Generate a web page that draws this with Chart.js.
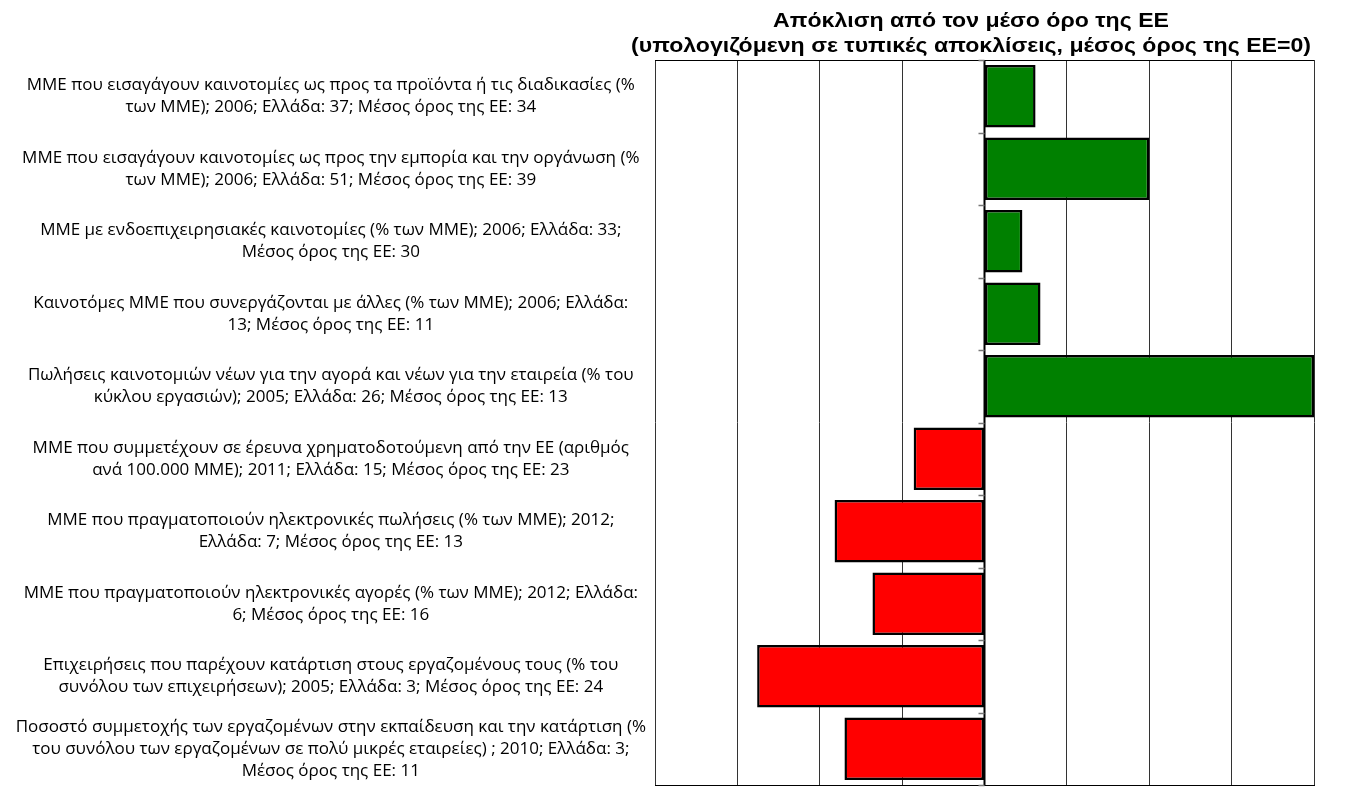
<!DOCTYPE html>
<html>
<head>
<meta charset="utf-8">
<script src="https://cdn.jsdelivr.net/npm/chart.js@4"></script>
<style>
  html, body { margin: 0; padding: 0; background: #fff; }
  #wrap { position: relative; width: 1347px; height: 787px; }
  canvas { position: absolute; left: 0; top: 0; }
  #title {
    position: absolute; left: 621px; width: 700px; top: 7px;
    text-align: center; color: #000;
    font: bold 21px 'Liberation Sans', Arial, sans-serif; line-height: 25px;
    transform: scaleX(1.1); transform-origin: 350px 0;
  }
</style>
</head>
<body>
<div id="wrap">
  <canvas id="chart" width="1347" height="787"></canvas>
  <div id="title">Απόκλιση από τον μέσο όρο της ΕΕ<br>(υπολογιζόμενη σε τυπικές αποκλίσεις, μέσος όρος της ΕΕ=0)</div>
</div>
<script>
// indicators, wrapped as in the original
const labels = [
  ['ΜΜΕ που εισαγάγουν καινοτομίες ως προς τα προϊόντα ή τις διαδικασίες (%', 'των ΜΜΕ); 2006; Ελλάδα: 37; Μέσος όρος της ΕΕ: 34'],
  ['ΜΜΕ που εισαγάγουν καινοτομίες ως προς την εμπορία και την οργάνωση (%', 'των ΜΜΕ); 2006; Ελλάδα: 51; Μέσος όρος της ΕΕ: 39'],
  ['ΜΜΕ με ενδοεπιχειρησιακές καινοτομίες (% των ΜΜΕ); 2006; Ελλάδα: 33;', 'Μέσος όρος της ΕΕ: 30'],
  ['Καινοτόμες ΜΜΕ που συνεργάζονται με άλλες (% των ΜΜΕ); 2006; Ελλάδα:', '13; Μέσος όρος της ΕΕ: 11'],
  ['Πωλήσεις καινοτομιών νέων για την αγορά και νέων για την εταιρεία (% του', 'κύκλου εργασιών); 2005; Ελλάδα: 26; Μέσος όρος της ΕΕ: 13'],
  ['ΜΜΕ που συμμετέχουν σε έρευνα χρηματοδοτούμενη από την ΕΕ (αριθμός', 'ανά 100.000 ΜΜΕ); 2011; Ελλάδα: 15; Μέσος όρος της ΕΕ: 23'],
  ['ΜΜΕ που πραγματοποιούν ηλεκτρονικές πωλήσεις (% των ΜΜΕ); 2012;', 'Ελλάδα: 7; Μέσος όρος της ΕΕ: 13'],
  ['ΜΜΕ που πραγματοποιούν ηλεκτρονικές αγορές (% των ΜΜΕ); 2012; Ελλάδα:', '6; Μέσος όρος της ΕΕ: 16'],
  ['Επιχειρήσεις που παρέχουν κατάρτιση στους εργαζομένους τους (% του', 'συνόλου των επιχειρήσεων); 2005; Ελλάδα: 3; Μέσος όρος της ΕΕ: 24'],
  ['Ποσοστό συμμετοχής των εργαζομένων στην εκπαίδευση και την κατάρτιση (%', 'του συνόλου των εργαζομένων σε πολύ μικρές εταιρείες) ; 2010; Ελλάδα: 3;', 'Μέσος όρος της ΕΕ: 11']
];

// deviation from EU average, in standard deviations
const deviation = [0.31, 1.0, 0.23, 0.34, 2.0, -0.43, -0.91, -0.68, -1.38, -0.85];

// x axis: no labels shown, only the gridlines
const axisMin = -2;
const axisMax = 2;
const axisStep = 0.5;

// box round the plot, plus the zero axis with its small tick marks
const zeroAxis = {
  id: 'zeroAxis',
  afterDatasetsDraw(chart) {
    const { ctx, chartArea: a, scales: { x, y } } = chart;
    const x0 = x.getPixelForValue(0);
    ctx.save();
    ctx.strokeStyle = '#000';
    ctx.lineWidth = 1;
    ctx.beginPath();
    ctx.moveTo(a.left, a.top + 0.5);
    ctx.lineTo(a.right, a.top + 0.5);
    ctx.stroke();

    ctx.lineWidth = 2;
    ctx.beginPath();
    ctx.moveTo(x0, a.top);
    ctx.lineTo(x0, a.bottom);
    ctx.stroke();

    ctx.strokeStyle = '#777';
    ctx.lineWidth = 1.5;
    for (let i = 0; i <= labels.length; i++) {
      const yy = Math.round(y.getPixelForValue(i - 0.5)) + 0.5;
      ctx.beginPath();
      ctx.moveTo(x0 - 6, yy);
      ctx.lineTo(x0, yy);
      ctx.stroke();
    }
    ctx.restore();
  }
};

new Chart(document.getElementById('chart'), {
  type: 'bar',
  data: {
    labels: labels,
    datasets: [{
      data: deviation,
      backgroundColor: deviation.map(v => v >= 0 ? '#008000' : '#ff0000'),
      borderColor: '#000',
      borderWidth: 2.5,
      borderSkipped: false,
      categoryPercentage: 1,
      barPercentage: 0.86
    }]
  },
  options: {
    indexAxis: 'y',
    responsive: false,
    animation: false,
    layout: { padding: { top: 60, right: 33, bottom: 2, left: 0 } },
    plugins: {
      legend: { display: false },
      tooltip: { enabled: false }
    },
    scales: {
      x: {
        min: axisMin, max: axisMax,
        ticks: { display: false, stepSize: axisStep, padding: 0 },
        grid: { color: '#333', lineWidth: 1, drawTicks: false },
        border: { display: true, color: '#000', width: 1 }
      },
      y: {
        grid: { display: false },
        border: { display: false },
        ticks: {
          autoSkip: false,
          crossAlign: 'center',
          padding: 1,
          color: '#000',
          font: { family: "'Open Sans', sans-serif", size: 17, lineHeight: '22px' }
        },
        afterFit: s => { s.width = 655; s.paddingTop = 0; s.paddingBottom = 0; }
      }
    }
  },
  plugins: [zeroAxis]
});
</script>
</body>
</html>
